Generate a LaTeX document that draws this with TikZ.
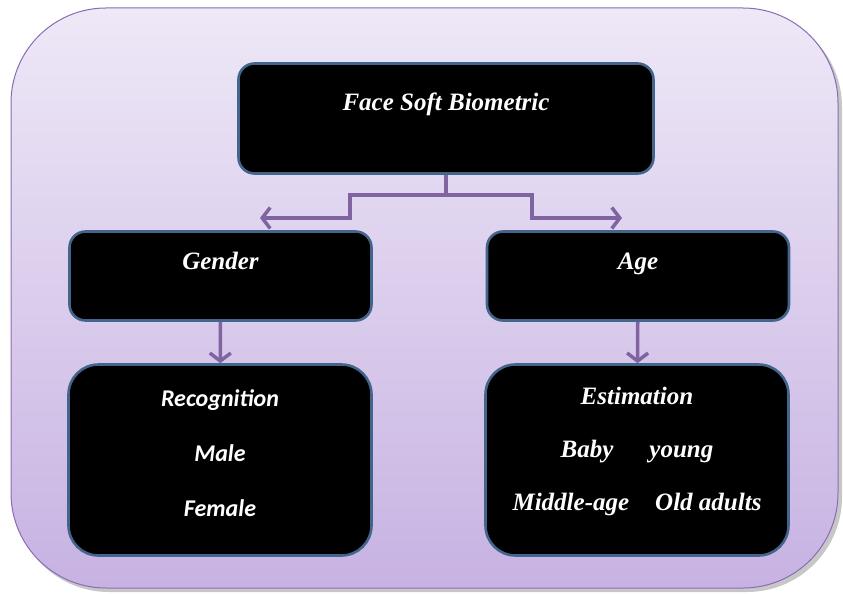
\documentclass[tikz,border=0pt]{standalone}
\usepackage{fontspec}
\setmainfont{Liberation Serif}
\newfontfamily\calibfont{Carlito}
\usetikzlibrary{arrows.meta,positioning,calc}
\definecolor{PanelTop}{HTML}{EEE8F7}
\definecolor{PanelLow}{HTML}{C7B2E2}
\definecolor{Frame}{HTML}{8A6CB4}
\definecolor{Rim}{HTML}{43658C}
\definecolor{Link}{HTML}{8064A2}
\tikzset{card/.style={draw=Rim,fill=black,line width=2.6pt,rounded corners=16pt,
    align=center,text=white,font=\bfseries\itshape\fontsize{25}{53}\selectfont},
  headcard/.style={card,minimum width=415pt,minimum height=110pt,
    text height=16pt,text depth=33pt},
  branchcard/.style={card,minimum width=302pt,minimum height=89pt,
    text height=16pt,text depth=30pt},
  leafcard/.style={card,minimum width=303pt,minimum height=191pt,rounded corners=30pt},
  link/.style={-{Straight Barb[length=8pt,width=21pt]},line width=3.5pt,draw=Link}}

\begin{document}
\begin{tikzpicture}[x=1pt,y=-1pt]
        \useasboundingbox (0,0) rectangle (843,594);
        % panel behind the tree
        \fill[black!22,rounded corners=95pt] (14,12) rectangle (842,592);
        \shadedraw[top color=PanelTop,bottom color=PanelLow,draw=Frame,line width=1pt,
          rounded corners=95pt] (11,8) rectangle (838,588);
        \node[headcard] (head) at (446,118.5) {Face Soft Biometric};
        \node[branchcard] (gender) at (220.5,276) {Gender};
        \node[branchcard] (age) at (638,276) {Age};
        \node[leafcard,text height=127pt,text depth=15pt,
          font=\calibfont\bfseries\itshape\fontsize{24}{55}\selectfont]
          (recog) at (220,460) {Recognition\\Male\\Female};
        \node[leafcard,text height=123pt,text depth=23pt] (estim) at (637,460)
          {Estimation\\Baby\hspace{36pt}young\\Middle-age\hspace{26pt}Old adults};
        \coordinate (lefttip) at (260,218);
        \coordinate (righttip) at (622,218);
        \draw[link] (head.south) |- (350,195) |- (lefttip);
        \draw[link] (head.south) |- (532,195) |- (righttip);
        \draw[link] (gender) -- (recog);
        \draw[link] (age) -- (estim);
      \end{tikzpicture}
\end{document}
